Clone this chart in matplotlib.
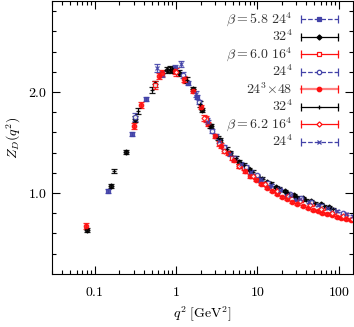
import matplotlib
matplotlib.use("Agg")
import matplotlib.pyplot as plt
from matplotlib.ticker import FixedLocator, FuncFormatter, NullFormatter

plt.rcParams['mathtext.fontset'] = 'cm'
plt.rcParams['font.family'] = 'serif'
plt.rcParams['font.serif'] = ['DejaVu Serif']

BLUE = '#4242a8'
RED = '#ff1010'

# beta=5.8 24^4
q58_24 = [0.147, 0.288, 0.43, 0.98, 1.4, 1.8, 2.4, 3.1, 4.0, 5.2, 6.6, 8.4, 10.8, 14, 18, 23, 30]
z58_24 = [1.02, 1.58, 1.93, 2.24, 2.09, 1.95, 1.72, 1.56, 1.44, 1.34, 1.27, 1.20, 1.13, 1.07, 1.02, 0.98, 0.94]
e58_24 = [0.02, 0.02, 0.02, 0.03, 0.02, 0.02, 0.02, 0.02, 0.02, 0.02, 0.02, 0.02, 0.01, 0.01, 0.01, 0.01, 0.01]

# beta=5.8 32^4
q58_32 = [0.081, 0.159, 0.244, 0.31, 0.55, 0.78, 0.9, 1.09, 1.6, 2.1, 2.7, 3.5, 4.6, 6.0, 7.8, 10, 13, 17, 22, 28, 36, 46, 60, 76]
z58_32 = [0.634, 1.07, 1.41, 1.73, 2.08, 2.22, 2.22, 2.19, 2.03, 1.82, 1.66, 1.52, 1.40, 1.31, 1.24, 1.17, 1.11, 1.06, 1.02, 0.98, 0.95, 0.92, 0.89, 0.86]
e58_32 = [0.02, 0.02, 0.02, 0.03, 0.03, 0.03, 0.03, 0.03, 0.02, 0.02, 0.02, 0.02, 0.02, 0.02, 0.01, 0.01, 0.01, 0.01, 0.01, 0.01, 0.01, 0.01, 0.01, 0.01]

# beta=6.0 16^4
q60_16 = [0.55, 1.3, 2.3, 3.4, 4.9, 6.8, 9.5, 13, 18, 25, 34, 47, 64, 88, 120]
z60_16 = [2.07, 2.12, 1.73, 1.49, 1.35, 1.25, 1.16, 1.09, 1.03, 0.98, 0.93, 0.89, 0.85, 0.81, 0.78]
e60_16 = [0.04, 0.03, 0.03, 0.02, 0.02, 0.02, 0.02, 0.02, 0.01, 0.01, 0.01, 0.01, 0.01, 0.01, 0.01]

# beta=6.0 24^4
q60_24 = [0.31, 0.67, 1.2, 1.9, 2.8, 3.9, 5.3, 7.2, 9.8, 13.5, 18.5, 25, 34, 46, 62, 84, 113]
z60_24 = [1.75, 2.18, 2.17, 1.90, 1.61, 1.46, 1.35, 1.26, 1.18, 1.10, 1.04, 0.99, 0.95, 0.91, 0.87, 0.83, 0.80]
e60_24 = [0.04, 0.03, 0.03, 0.02, 0.02, 0.02, 0.02, 0.02, 0.01, 0.01, 0.01, 0.01, 0.01, 0.01, 0.01, 0.01, 0.01]

# beta=6.0 24^3x48
q60_48 = [0.0787, 0.305, 0.37, 0.62, 0.67, 0.97, 1.25, 1.6, 2.0, 2.5, 3.0, 3.6, 4.3, 5.1, 6.0, 7.0, 8.2, 9.6,
          11.2, 13, 15, 17.5, 20, 23, 27, 31, 36, 42, 48, 55, 63, 72, 82, 94, 107, 122, 140]
z60_48 = [0.673, 1.66, 1.87, 2.16, 2.19, 2.21, 2.13, 2.01, 1.85, 1.68, 1.56, 1.47, 1.40, 1.33, 1.27, 1.22, 1.17, 1.13,
          1.09, 1.05, 1.02, 0.99, 0.96, 0.94, 0.91, 0.89, 0.87, 0.85, 0.83, 0.82, 0.80, 0.79, 0.78, 0.76, 0.75, 0.74, 0.73]
e60_48 = [0.03, 0.03, 0.03, 0.03, 0.03, 0.03, 0.03, 0.02, 0.02, 0.02, 0.02, 0.02, 0.02, 0.02, 0.02, 0.02, 0.02, 0.01,
          0.01, 0.01, 0.01, 0.01, 0.01, 0.01, 0.01, 0.01, 0.01, 0.01, 0.01, 0.01, 0.01, 0.01, 0.01, 0.01, 0.01, 0.01, 0.01]

# beta=6.0 32^4
q60_32 = [0.173, 0.34, 0.5, 0.85, 1.35, 1.95, 2.6, 3.3, 4.2, 5.4, 6.9, 8.8, 11.3, 14.5, 18.6, 24, 31, 40, 51, 66, 84]
z60_32 = [1.22, 1.81, 2.02, 2.23, 2.12, 1.88, 1.66, 1.54, 1.44, 1.35, 1.28, 1.21, 1.15, 1.10, 1.05, 1.00, 0.96, 0.93, 0.90, 0.87, 0.84]
e60_32 = [0.02, 0.03, 0.03, 0.03, 0.03, 0.03, 0.02, 0.02, 0.02, 0.02, 0.02, 0.02, 0.01, 0.01, 0.01, 0.01, 0.01, 0.01, 0.01, 0.01, 0.01]

# beta=6.2 16^4
q62_16 = [1.0, 2.2, 3.9, 6.0, 8.8, 12.5, 17.5, 24, 33, 45, 61, 83, 112, 145]
z62_16 = [2.20, 1.74, 1.42, 1.27, 1.17, 1.09, 1.02, 0.97, 0.92, 0.88, 0.84, 0.80, 0.77, 0.74]
e62_16 = [0.04, 0.03, 0.02, 0.02, 0.02, 0.02, 0.01, 0.01, 0.01, 0.01, 0.01, 0.01, 0.01, 0.01]

# beta=6.2 24^4
q62_24 = [0.58, 1.15, 1.75, 2.5, 3.4, 4.6, 6.2, 8.3, 11, 14.5, 19, 25, 33, 43, 56, 73, 95, 123, 148]
z62_24 = [2.24, 2.28, 1.98, 1.70, 1.51, 1.39, 1.29, 1.21, 1.14, 1.08, 1.03, 0.98, 0.94, 0.91, 0.88, 0.85, 0.82, 0.79, 0.77]
e62_24 = [0.04, 0.03, 0.03, 0.02, 0.02, 0.02, 0.02, 0.02, 0.01, 0.01, 0.01, 0.01, 0.01, 0.01, 0.01, 0.01, 0.01, 0.01, 0.01]

# (q, z, err, label, color, marker, filled, linestyle)
series = [
    (q58_24, z58_24, e58_24, r'$\beta=5.8\ 24^4$', BLUE, 's', True, '--'),
    (q58_32, z58_32, e58_32, r'$32^4$', 'black', 'D', True, '-'),
    (q60_16, z60_16, e60_16, r'$\beta=6.0\ 16^4$', RED, 's', False, '-'),
    (q60_24, z60_24, e60_24, r'$24^4$', BLUE, 'o', False, '--'),
    (q60_48, z60_48, e60_48, r'$24^3{\times}48$', RED, 'o', True, '-'),
    (q60_32, z60_32, e60_32, r'$32^4$', 'black', '+', True, '-'),
    (q62_16, z62_16, e62_16, r'$\beta=6.2\ 16^4$', RED, 'D', False, '-'),
    (q62_24, z62_24, e62_24, r'$24^4$', BLUE, 'x', True, '--'),
]

fig = plt.figure(figsize=(3.54, 3.27), dpi=100)
ax = fig.add_axes([0.1477, 0.1627, 0.8495, 0.834])

for q, z, e, lab, col, mk, filled, ls in series:
    ax.errorbar(q, z, yerr=e, fmt=mk, color=col, ms=3.2 if mk != 'D' else 2.6,
                mfc=col if filled else 'white', mec=col, mew=0.9,
                elinewidth=0.8, capsize=2.2, capthick=0.8, alpha=0.9)

ax.set_xscale('log')
ax.set_xlim(0.03, 150)
ax.set_ylim(0.2, 2.9)

ax.xaxis.set_major_locator(FixedLocator([0.1, 1, 10, 100]))
ax.xaxis.set_major_formatter(FuncFormatter(lambda v, p: {0.1: r'$0.1$', 1: r'$1$', 10: r'$10$', 100: r'$100$'}.get(v, '')))
ax.xaxis.set_minor_formatter(NullFormatter())
ax.yaxis.set_major_locator(FixedLocator([1.0, 2.0]))
ax.yaxis.set_minor_locator(FixedLocator([0.4, 0.6, 0.8, 1.2, 1.4, 1.6, 1.8, 2.2, 2.4, 2.6, 2.8]))
ax.yaxis.set_major_formatter(FuncFormatter(lambda v, p: r'$%.1f$' % v))

ax.tick_params(which='both', direction='in', top=True, right=True, labelsize=10, width=0.8)
ax.tick_params(which='major', length=6)
ax.tick_params(which='minor', length=3)
ax.tick_params(axis='x', pad=8)
for s in ax.spines.values():
    s.set_linewidth(0.8)

ax.set_xlabel(r'$q^2\ [\mathrm{GeV}^2]$', fontsize=10, labelpad=4)
ax.set_ylabel(r'$Z_D(q^2)$', fontsize=10, labelpad=4)

# legend, drawn by hand: label right-aligned, error-bar sample on the right
x_lab, x0, xm, x1 = 0.80, 0.828, 0.888, 0.950
y_top, dy = 0.934, 0.0642
for i, (q, z, e, lab, col, mk, filled, ls) in enumerate(series):
    y = y_top - i * dy
    ax.text(x_lab, y, lab, transform=ax.transAxes, ha='right', va='center', fontsize=10, color='#333333')
    lc = '#ff8080' if (col == RED and filled) else col
    ax.plot([x0, x1], [y, y], ls=ls, color=lc, lw=1.6 if lc == '#ff8080' else 0.9,
            transform=ax.transAxes, clip_on=False)
    ax.plot([x0, x1], [y, y], ls='none', marker='|', ms=6, mew=0.9, color=col,
            transform=ax.transAxes, clip_on=False)
    ax.plot([xm], [y], ls='none', marker=mk, ms=3.2 if mk != 'D' else 2.6,
            mfc=col if filled else 'white', mec=col, mew=0.9,
            transform=ax.transAxes, clip_on=False)

fig.savefig('out.png', dpi=100)
